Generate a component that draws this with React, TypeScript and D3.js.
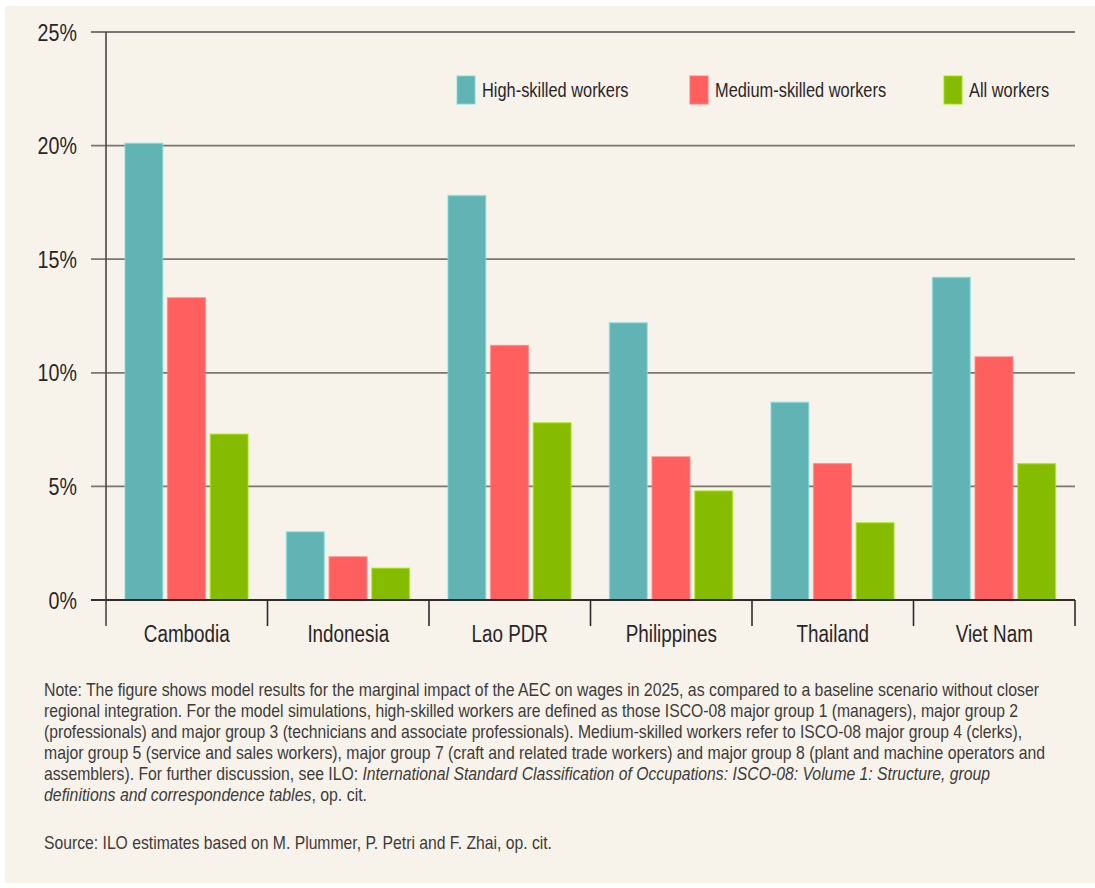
import React from "react";
import * as d3 from "d3";

const categories = ["Cambodia", "Indonesia", "Lao PDR", "Philippines", "Thailand", "Viet Nam"];
const seriesNames = ["High-skilled workers", "Medium-skilled workers", "All workers"];
const highSkilled = [20.1, 3.0, 17.8, 12.2, 8.7, 14.2];
const mediumSkilled = [13.3, 1.9, 11.2, 6.3, 6.0, 10.7];
const allWorkers = [7.3, 1.4, 7.8, 4.8, 3.4, 6.0];
const yTicks = [0, 5, 10, 15, 20, 25];
const colors = ["#62b3b3", "#ff5f5f", "#85bb00"];

const noteLines: { parts: { t: string; i?: boolean }[]; end: number }[] = [
  { parts: [{ t: "Note: The figure shows model results for the marginal impact of the AEC on wages in 2025, as compared to a baseline scenario without closer" }], end: 1039 },
  { parts: [{ t: "regional integration. For the model simulations, high-skilled workers are defined as those ISCO-08 major group 1 (managers), major group 2" }], end: 1018 },
  { parts: [{ t: "(professionals) and major group 3 (technicians and associate professionals). Medium-skilled workers refer to ISCO-08 major group 4 (clerks)," }], end: 1022 },
  { parts: [{ t: "major group 5 (service and sales workers), major group 7 (craft and related trade workers) and major group 8 (plant and machine operators and" }], end: 1045 },
  { parts: [{ t: "assemblers). For further discussion, see ILO: " }, { t: "International Standard Classification of Occupations: ISCO-08: Volume 1: Structure, group", i: true }], end: 990 },
  { parts: [{ t: "definitions and correspondence tables", i: true }, { t: ", op. cit." }], end: 367 },
];
const sourceLine = "Source: ILO estimates based on M. Plummer, P. Petri and F. Zhai, op. cit.";

const FONT = "'Liberation Sans', Arial, sans-serif";
const NARROW = 0.82;

function NText(props: { x: number; y: number; size: number; anchor?: string; children: React.ReactNode; fill?: string }) {
  const { x, y, size, anchor = "start", children, fill = "#2a2626" } = props;
  return (
    <g transform={`translate(${x},${y}) scale(${NARROW},1)`}>
      <text x={0} y={0} dy="0.36em" textAnchor={anchor} fontSize={size} fill={fill}>
        {children}
      </text>
    </g>
  );
}

export default function App() {
  const W = 1095, H = 888;
  const left = 106, right = 1075, top = 32, bottom = 600;
  const series = [highSkilled, mediumSkilled, allWorkers];

  const x0 = d3.scaleBand<string>().domain(categories).range([left, right]).paddingInner(0).paddingOuter(0);
  const x1 = d3.scaleBand<number>().domain([0, 1, 2]).range([19, x0.bandwidth() - 19.5]).paddingInner(0.116).paddingOuter(0);
  const y = d3.scaleLinear().domain([0, 25]).range([bottom, top]);

  const legendX = [457, 690, 944];
  const noteScale = 0.8;

  return (
    <svg width={W} height={H} style={{ position: "absolute", left: 0, top: 0 }} fontFamily={FONT}>
      <rect x={0} y={0} width={W} height={H} fill="#ffffff" />
      <rect x={5} y={6} width={W - 5} height={877} fill="#f7f3eb" />

      {yTicks.filter((t) => t > 0).map((t) => (
        <line key={t} x1={91} x2={right} y1={y(t)} y2={y(t)} stroke="#7a7672" strokeWidth={1.8} />
      ))}
      <line x1={91} x2={left} y1={y(0)} y2={y(0)} stroke="#333" strokeWidth={2} />

      {categories.map((c, ci) =>
        series.map((s, si) => (
          <rect
            key={c + si}
            x={(x0(c) as number) + (x1(si) as number)}
            y={y(s[ci])}
            width={x1.bandwidth()}
            height={y(0) - y(s[ci])}
            fill={colors[si]}
            stroke={d3.color(colors[si])!.brighter(0.6).formatHex()}
            strokeOpacity={0.6}
            strokeWidth={1.5}
          />
        ))
      )}

      <line x1={left} x2={left} y1={top} y2={626} stroke="#4a4644" strokeWidth={1.6} />
      <line x1={left} x2={right} y1={y(0)} y2={y(0)} stroke="#2e2b2a" strokeWidth={2.2} />
      {categories.map((c) => (
        <line key={c} x1={(x0(c) as number) + x0.bandwidth()} x2={(x0(c) as number) + x0.bandwidth()} y1={y(0)} y2={626} stroke="#2e2b2a" strokeWidth={1.6} />
      ))}

      {yTicks.map((t) => (
        <NText key={t} x={77} y={y(t)} size={24} anchor="end">{t}%</NText>
      ))}
      {categories.map((c) => (
        <NText key={c} x={(x0(c) as number) + x0.bandwidth() / 2} y={634} size={23} anchor="middle">{c}</NText>
      ))}

      {seriesNames.map((n, i) => (
        <g key={n}>
          <rect x={legendX[i]} y={76} width={18} height={28} fill={colors[i]} stroke={d3.color(colors[i])!.brighter(0.6).formatHex()} strokeOpacity={0.6} strokeWidth={1.5} />
          <NText x={legendX[i] + 25} y={90} size={20}>{n}</NText>
        </g>
      ))}

      {noteLines.map((ln, i) => (
        <g key={i} transform={`translate(44,${696 + i * 21}) scale(${noteScale},1)`}>
          <text x={0} y={0} fontSize={18} fill="#3e3b3a" textLength={(ln.end - 44) / noteScale} lengthAdjust="spacingAndGlyphs">
            {ln.parts.map((p, j) => (
              <tspan key={j} fontStyle={p.i ? "italic" : "normal"}>{p.t}</tspan>
            ))}
          </text>
        </g>
      ))}
      <g transform={`translate(44,849) scale(${noteScale},1)`}>
        <text x={0} y={0} fontSize={18} fill="#3e3b3a" textLength={(552 - 44) / noteScale} lengthAdjust="spacingAndGlyphs">
          {sourceLine}
        </text>
      </g>
    </svg>
  );
}
